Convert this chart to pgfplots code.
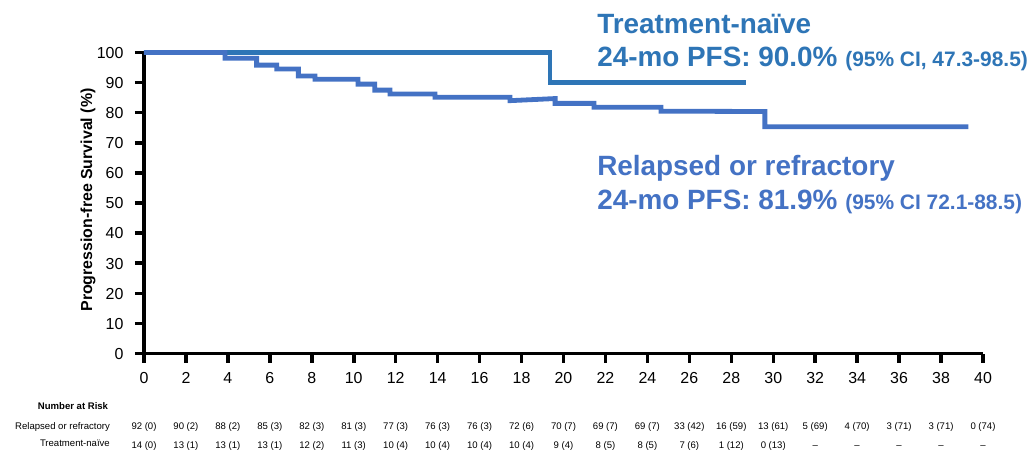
\documentclass[border=0pt]{standalone}
\usepackage{pgfplots}
\pgfplotsset{compat=1.18}
\usepackage{fontspec}
\setmainfont{Liberation Sans}
\definecolor{tncol}{RGB}{46,117,182}
\definecolor{rrcol}{RGB}{68,114,196}
\newcommand{\rsk}[3]{\node[font=\fontsize{9.6}{11}\selectfont, anchor=center, text height=7bp, text depth=2bp] at (axis cs:#1,#2) {#3};}
\begin{document}
\begin{tikzpicture}
\path[use as bounding box] (-144bp,-97.5bp) rectangle (891bp,353.5bp);
\begin{axis}[
  at={(0,0)}, anchor=south west,
  scale only axis, width=839bp, height=301bp,
  xmin=0, xmax=40, ymin=0, ymax=100,
  axis x line*=bottom, axis y line*=left,
  axis line style={line width=3.5bp, black},
  xtick={0,2,...,40}, ytick={0,10,...,100},
  tick align=outside, major tick length=9bp,
  tick style={line width=3.5bp, black},
  tick label style={font=\fontsize{16}{18}\selectfont, text height=11.6bp, text depth=0bp},
  yticklabel style={xshift=-8bp},
  xticklabel style={yshift=-6bp},
  /pgf/number format/assume math mode=true,
  ylabel={Progression-free Survival (\%)},
  ylabel style={font=\fontsize{16}{18}\selectfont\bfseries, at={(axis description cs:-0.0667,0.51)}, anchor=center},
  clip=false,
]
\addplot[tncol, line width=4.8bp, line join=miter] coordinates {
 (0,100) (19.36,100) (19.36,90.1) (28.7,90.1)};
\addplot[rrcol, line width=4.8bp, line join=miter] coordinates {
 (0,100.0)(3.86,100.0)(3.86,98.1)(5.37,98.1)(5.37,95.8)(6.33,95.8)(6.33,94.5)(7.36,94.5)(7.36,92.2)(8.15,92.2)(8.15,91.1)(10.2,91.1)(10.2,89.5)(11.0,89.5)(11.0,87.5)(11.73,87.5)(11.73,86.2)(13.87,86.2)(13.87,85.1)(17.45,85.1)(17.45,84.0)(19.6,84.7)(19.6,83.1)(21.45,83.1)(21.45,81.8)(24.65,81.8)(24.65,80.5)(29.6,80.4)(29.6,75.3)(39.3,75.3)};

\node[anchor=base west, text=tncol, font=\fontsize{28}{30}\selectfont\bfseries, inner sep=0pt] at (axis cs:21.6,106.4) {Treatment-naïve};
\node[anchor=base west, text=tncol, font=\fontsize{28}{30}\selectfont\bfseries, inner sep=0pt] at (axis cs:21.6,95.3) {24-mo PFS: 90.0\% {\fontsize{21}{22}\selectfont (95\% CI, 47.3-98.5)}};
\node[anchor=base west, text=rrcol, font=\fontsize{28}{30}\selectfont\bfseries, inner sep=0pt] at (axis cs:21.6,59.3) {Relapsed or refractory};
\node[anchor=base west, text=rrcol, font=\fontsize{28}{30}\selectfont\bfseries, inner sep=0pt] at (axis cs:21.6,47.9) {24-mo PFS: 81.9\% {\fontsize{21}{22}\selectfont (95\% CI 72.1-88.5)}};

\node[font=\fontsize{9.6}{11}\selectfont\bfseries, anchor=center] at (axis cs:-3.385,-17.4) {Number at Risk};
\node[font=\fontsize{9.6}{11}\selectfont, anchor=east, inner sep=0pt, text height=7bp, text depth=2bp] at (axis cs:-1.62,-24.5) {Relapsed or refractory};
\node[font=\fontsize{9.6}{11}\selectfont, anchor=east, inner sep=0pt, text height=7bp, text depth=2bp] at (axis cs:-1.62,-30.2) {Treatment-naïve};

\rsk{0}{-24.5}{92 (0)}\rsk{2}{-24.5}{90 (2)}\rsk{4}{-24.5}{88 (2)}\rsk{6}{-24.5}{85 (3)}
\rsk{8}{-24.5}{82 (3)}\rsk{10}{-24.5}{81 (3)}\rsk{12}{-24.5}{77 (3)}\rsk{14}{-24.5}{76 (3)}
\rsk{16}{-24.5}{76 (3)}\rsk{18}{-24.5}{72 (6)}\rsk{20}{-24.5}{70 (7)}\rsk{22}{-24.5}{69 (7)}
\rsk{24}{-24.5}{69 (7)}\rsk{26}{-24.5}{33 (42)}\rsk{28}{-24.5}{16 (59)}\rsk{30}{-24.5}{13 (61)}
\rsk{32}{-24.5}{5 (69)}\rsk{34}{-24.5}{4 (70)}\rsk{36}{-24.5}{3 (71)}\rsk{38}{-24.5}{3 (71)}
\rsk{40}{-24.5}{0 (74)}

\rsk{0}{-30.6}{14 (0)}\rsk{2}{-30.6}{13 (1)}\rsk{4}{-30.6}{13 (1)}\rsk{6}{-30.6}{13 (1)}
\rsk{8}{-30.6}{12 (2)}\rsk{10}{-30.6}{11 (3)}\rsk{12}{-30.6}{10 (4)}\rsk{14}{-30.6}{10 (4)}
\rsk{16}{-30.6}{10 (4)}\rsk{18}{-30.6}{10 (4)}\rsk{20}{-30.6}{9 (4)}\rsk{22}{-30.6}{8 (5)}
\rsk{24}{-30.6}{8 (5)}\rsk{26}{-30.6}{7 (6)}\rsk{28}{-30.6}{1 (12)}\rsk{30}{-30.6}{0 (13)}
\rsk{32}{-30.6}{–}\rsk{34}{-30.6}{–}\rsk{36}{-30.6}{–}\rsk{38}{-30.6}{–}\rsk{40}{-30.6}{–}
\end{axis}
\end{tikzpicture}
\end{document}
